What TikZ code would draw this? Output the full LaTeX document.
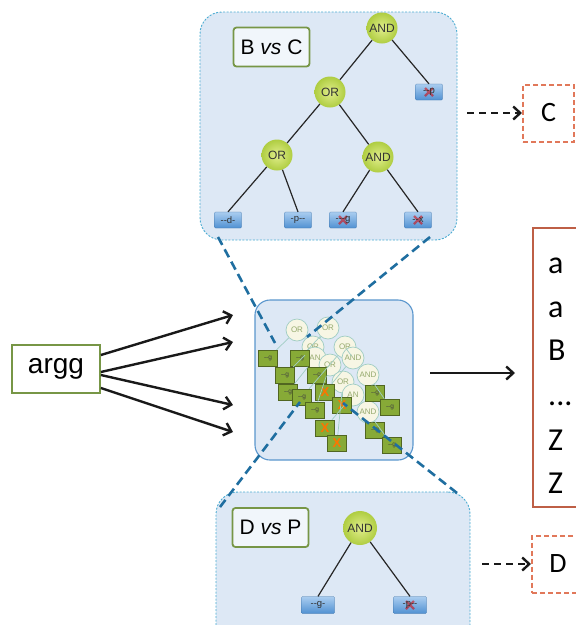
\documentclass[tikz,border=0pt]{standalone}
\usepackage{fontspec}
\setmainfont{Liberation Sans}
\newfontfamily\carlito{Carlito}
\usetikzlibrary{arrows.meta}
\newcommand\threedots{...}

\definecolor{panelblue}{RGB}{221,232,245}
\definecolor{paneledge}{RGB}{75,172,210}
\definecolor{zoomblue}{RGB}{31,110,160}
\definecolor{boxedge}{RGB}{90,150,205}
\definecolor{labgreen}{RGB}{119,150,70}
\definecolor{leaftop}{RGB}{170,205,240}
\definecolor{leafbot}{RGB}{80,145,210}
\definecolor{listred}{RGB}{190,95,70}
\definecolor{ansred}{RGB}{225,120,90}
\definecolor{mossgreen}{RGB}{135,170,55}
\definecolor{opin}{RGB}{225,238,140}
\definecolor{opout}{RGB}{175,205,65}
\definecolor{paleteal}{RGB}{160,205,195}

\begin{document}
\begin{tikzpicture}[x=1pt, y=-1pt,
  panel/.style={draw=paneledge, dash pattern=on 2pt off 1.5pt, line width=0.9pt,
    fill=panelblue, rounded corners=22pt, inner sep=0pt},
  midbox/.style={draw=boxedge, line width=1.1pt, fill=panelblue, rounded corners=15pt, inner sep=0pt},
  tagbox/.style={draw=labgreen, line width=1.8pt, fill=panelblue!40!white, rounded corners=3pt,
    minimum width=76pt, minimum height=39pt, font=\fontsize{21}{21}\selectfont},
  opnode/.style={circle, minimum size=31pt, inner sep=0pt, inner color=opin, outer color=opout,
    font=\fontsize{12}{12}\selectfont, text=black!80},
  leaf/.style={rectangle, rounded corners=1pt, minimum width=27pt, minimum height=16pt, inner sep=0pt,
    top color=leaftop, bottom color=leafbot, draw=leafbot!80!black, line width=0.3pt,
    font=\fontsize{9.5}{9.5}\selectfont, text=black!80},
  crossed/.style={path picture={
    \draw[red!85!black, line width=2.2pt, opacity=0.55]
      ([shift={(-4pt,-4pt)}]path picture bounding box.center) -- ([shift={(4pt,4pt)}]path picture bounding box.center)
      ([shift={(-4pt,4pt)}]path picture bounding box.center) -- ([shift={(4pt,-4pt)}]path picture bounding box.center);}},
  tree/.style={line width=1.2pt, black!85},
  pcirc/.style={circle, minimum size=22pt, inner sep=0pt, fill={rgb,255:red,247;green,246;blue,228},
    draw=paleteal, line width=0.7pt, text={rgb,255:red,150;green,170;blue,110},
    font=\fontsize{8}{8}\selectfont},
  gbox/.style={rectangle, minimum width=19pt, minimum height=16pt, inner sep=0pt, fill=mossgreen,
    draw=mossgreen!60!black, line width=0.4pt, text=black!75, font=\fontsize{6.5}{6.5}\selectfont},
  gboxx/.style={gbox, text=orange!90!red, font=\bfseries\fontsize{13}{13}\selectfont},
  tangle/.style={paleteal, line width=0.7pt},
  zoomline/.style={zoomblue, line width=2.6pt, dash pattern=on 9pt off 5pt},
  feed/.style={line width=2.4pt, black!90, -{Straight Barb[length=7pt, width=13pt]}},
  dashfeed/.style={feed, dash pattern=on 7pt off 5pt},
  answer/.style={draw=ansred, line width=2pt, dash pattern=on 5pt off 3pt, fill=white,
    inner sep=0pt, font=\carlito\fontsize{28}{28}\selectfont},
  listbox/.style={draw=listred, line width=2pt, fill=white, inner sep=0pt},
  letter/.style={anchor=base west, inner sep=0pt, font=\carlito\fontsize{32}{32}\selectfont}
]
  \clip (0,0) rectangle (576,625);

  % Panels
  \node[panel, minimum width=257pt, minimum height=228pt] (toppanel) at (328.5,126) {};
  \node[panel, minimum width=254pt, minimum height=160pt] (botpanel) at (343,572) {};
  \node[midbox, minimum width=158pt, minimum height=160pt] (tangbox) at (334,380) {};

  % Top tree (B vs C)
  \node[tagbox] (bvc) at (271.5,47) {B \textit{vs} C};
  \node[opnode] (and1) at (382,28) {AND};
  \node[opnode] (or1) at (330,92) {OR};
  \node[opnode] (or2) at (277,155) {OR};
  \node[opnode] (and2) at (378,157) {AND};
  \node[leaf, crossed] (lp) at (429,92) {-{}-p};
  \node[leaf] (ld) at (228,220) {-{}-d-};
  \node[leaf] (lp2) at (298,220) {-p-{}-};
  \node[leaf, crossed] (lg) at (343,220) {-{}-{}-g};
  \node[leaf, crossed] (lx) at (418,220) {-{}-x};
  \draw[tree] (and1) -- (or1);
  \draw[tree] (and1) -- (lp.north);
  \draw[tree] (or1) -- (or2);
  \draw[tree] (or1) -- (and2);
  \draw[tree] (or2) -- (ld.north);
  \draw[tree] (or2) -- (lp2.north);
  \draw[tree] (and2) -- (lg.north);
  \draw[tree] (and2) -- (lx.north);

  % Bottom tree (D vs P)
  \node[tagbox] (dvp) at (270.5,527.5) {D \textit{vs} P};
  \node[opnode, minimum size=34pt] (and3) at (360,528) {AND};
  \node[leaf, minimum width=33pt, minimum height=17pt] (lg2) at (318,605) {-{}-g-};
  \node[leaf, crossed, minimum width=33pt, minimum height=17pt] (lp3) at (410,605) {-p-{}-};
  \draw[tree] (and3) -- (lg2.north);
  \draw[tree] (and3) -- (lp3.north);

  % Tangle of all trees
  \foreach \n/\x/\y/\t in {c1/297/330/OR, c2/328/328/OR, c3/313/347/OR, c4/345/347/OR,
      c5/353/358/AND, c6/315/358/AN, c7/330/365/OR, c8/368/375/AND, c9/343/382/OR,
      c10/353/395/AN, c11/368/412/AND}
    \node[pcirc] (\n) at (\x,\y) {\t};
  \foreach \n/\x/\y in {g1/268/358, g2/300/358, g3/285/375, g4/317/375, g5/288/392,
      g6/302/397, g8/315/410, g10/375/393, g11/390/407, g13/375/430, g15/392/445}
    \node[gbox] (\n) at (\x,\y) {-{}-g};
  \foreach \n/\x/\y in {g7/325/392, g9/342/405, g12/325/428, g14/337/443}
    \node[gboxx] (\n) at (\x,\y) {X};
  \foreach \a/\b in {c1/g1, c2/g2, c2/c3, c3/g3, c4/c5, c4/g6, c5/g7, c6/g5,
      c7/g8, c8/g10, c8/g11, c9/g9, c10/g12, c11/g13, c11/g15, c9/g14}
    \draw[tangle] (\a) -- (\b);

  % Zoom lines
  \coordinate (tz1) at (218,237);
  \coordinate (tz2) at (430,237);
  \coordinate (bz1) at (220,507);
  \coordinate (bz2) at (457,493);
  \coordinate (mz1) at (275,343);
  \coordinate (mz2) at (307,337);
  \coordinate (mz3) at (300,402);
  \coordinate (mz4) at (343,403);
  \draw[zoomline] (tz1) -- (mz1);
  \draw[zoomline] (tz2) -- (mz2);
  \draw[zoomline] (bz1) -- (mz3);
  \draw[zoomline] (bz2) -- (mz4);

  % Input
  \node[draw=labgreen, line width=1.8pt, fill=white, minimum width=88pt, minimum height=48pt,
    inner sep=0pt, font=\fontsize{28}{28}\selectfont] (argg) at (56,369) {argg};
  \coordinate (a1) at (233,315);
  \coordinate (a2) at (233,342);
  \coordinate (a3) at (233,405);
  \coordinate (a4) at (233,432);
  \draw[feed] ([yshift=14pt]argg.east) -- (a1);
  \draw[feed] ([yshift=-3pt]argg.east) -- (a2);
  \draw[feed] ([yshift=-6pt]argg.east) -- (a3);
  \draw[feed] ([yshift=-19pt]argg.east) -- (a4);

  % Output list
  \node[listbox, minimum width=70pt, minimum height=279pt] (answers) at (568,367.5) {};
  \coordinate (mout) at (430,373);
  \coordinate (lin) at (515,373);
  \draw[feed] (mout) -- (lin);
  \foreach \t/\y in {a/273, a/317, B/360, \threedots/405, Z/450, Z/493}
    \node[letter] at (548,\y) {\t};

  % Answers
  \node[answer, minimum width=51pt, minimum height=57pt] (cbox) at (548.5,113) {C};
  \node[answer, minimum width=52pt, minimum height=57pt] (dbox) at (558,564) {D};
  \coordinate (cs) at (467,113);
  \coordinate (ds) at (482,564);
  \draw[dashfeed] (cs) -- (cbox.west);
  \draw[dashfeed] (ds) -- (dbox.west);
\end{tikzpicture}
\end{document}
